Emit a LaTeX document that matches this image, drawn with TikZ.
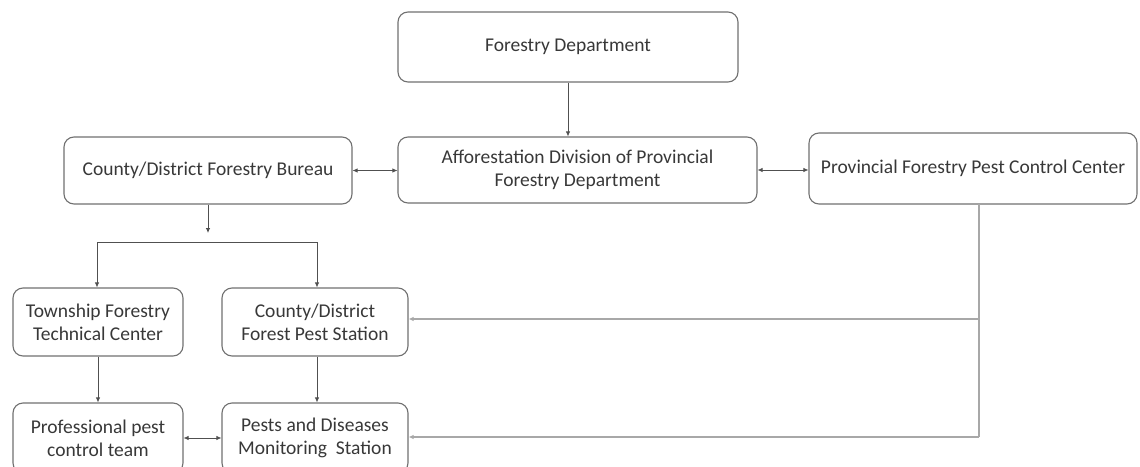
\documentclass[tikz,border=0pt]{standalone}
\usepackage{fontspec}
\setmainfont{Carlito}
\usetikzlibrary{arrows.meta}
\definecolor{boxline}{HTML}{707070}
\definecolor{txt}{HTML}{383838}
\definecolor{link}{HTML}{505050}
\definecolor{linklight}{HTML}{A8A8A8}
\tikzset{
  orgbox/.style={draw=boxline, line width=1.1pt, rounded corners=10pt, align=center,
    text=txt, font=\fontsize{19.5}{23}\selectfont, inner sep=0pt},
  tip/.style={-{Latex[length=5pt,width=4.5pt]}},
  bitip/.style={{Latex[length=5pt,width=4.5pt]}-{Latex[length=5pt,width=4.5pt]}},
  conn/.style={draw=link, line width=0.8pt},
  connlight/.style={draw=linklight, line width=1.1pt}
}
\begin{document}
\begin{tikzpicture}[x=1pt,y=-1pt]
\useasboundingbox (0,0) rectangle (1140,466);
\clip (0,0) rectangle (1140,466);
% boxes
\node[orgbox, minimum width=340pt, minimum height=70pt] (fd) at (568,47) {Forestry Department};
\node[orgbox, minimum width=359pt, minimum height=66pt] (aff) at (577.5,170) {Afforestation Division of Provincial\\Forestry Department};
\node[orgbox, minimum width=288pt, minimum height=67pt] (cdfb) at (208,170.5) {County/District Forestry Bureau};
\node[orgbox, minimum width=328pt, minimum height=71pt] (pfpcc) at (973,168.5) {Provincial Forestry Pest Control Center};
\node[orgbox, minimum width=170pt, minimum height=68pt] (tftc) at (98,322) {Township Forestry\\Technical Center};
\node[orgbox, minimum width=186pt, minimum height=68pt] (cdfps) at (315,322) {County/District\\Forest Pest Station};
\node[orgbox, minimum width=170pt, minimum height=70pt] (ppct) at (98,438) {Professional pest\\control team};
\node[orgbox, minimum width=186pt, minimum height=70pt] (pdms) at (315,438) {Pests and Diseases\\Monitoring\ \ Station};
% junction points
\coordinate (drop) at (208,233);
\coordinate (bl) at (97,242);
\coordinate (br) at (317,242);
\coordinate (rtop) at (979,204);
\coordinate (rmid) at (979,319);
\coordinate (rbot) at (979,437);
% connectors
\draw[conn, tip] (fd.south) -- (fd.south |- aff.north);
\draw[conn, bitip] (cdfb.east) -- (cdfb.east -| aff.west);
\draw[conn, bitip] (aff.east |- 0,170) -- (pfpcc.west |- 0,170);
\draw[conn, tip] (cdfb.south) -- (drop);
\draw[conn] (bl) -- (br);
\draw[conn, tip] (bl) -- (bl |- tftc.north);
\draw[conn, tip] (br) -- (br |- cdfps.north);
\draw[conn, tip] (tftc.south) -- (ppct.north);
\draw[conn, tip] (cdfps.south -| br) -- (br |- pdms.north);
\draw[conn, bitip] (ppct.east) -- (pdms.west);
\draw[connlight] (rtop) -- (rbot);
\draw[connlight, tip] (rmid) -- (rmid -| cdfps.east);
\draw[connlight, tip] (rbot) -- (rbot -| pdms.east);
\end{tikzpicture}
\end{document}
